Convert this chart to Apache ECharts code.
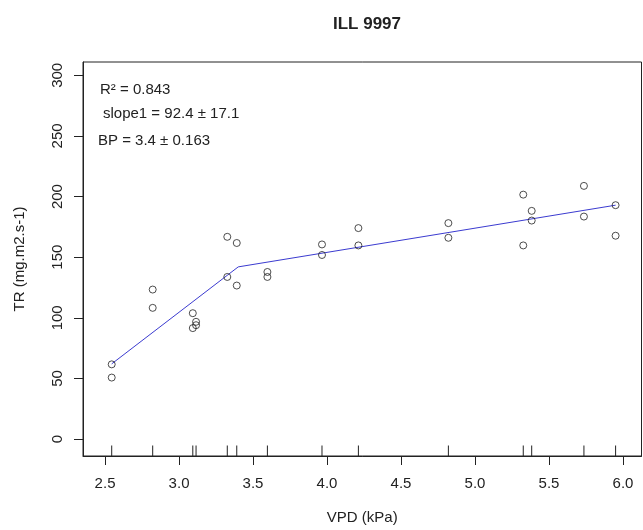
<!DOCTYPE html>
<html>
<head>
<meta charset="utf-8">
<script src="https://cdn.jsdelivr.net/npm/echarts@6/dist/echarts.min.js"></script>
<style>
html,body{margin:0;padding:0;background:#fff;}
#c{width:643px;height:530px;}
</style>
</head>
<body>
<div id="c"></div>
<script>
// ---- data ----
const chartTitle = 'ILL 9997';
const xName = 'VPD (kPa)';
const yName = 'TR (mg.m2.s-1)';
const vpd = [2.545,2.545, 2.822,2.822, 3.093,3.093, 3.115,3.115, 3.326,3.326, 3.39,3.39,
             3.597,3.597, 3.966,3.966, 4.212,4.212, 4.82,4.82, 5.326,5.326, 5.383,5.383,
             5.736,5.736, 5.95,5.95];
const tr  = [61.6,50.7, 123.3,108.2, 103.8,91.5, 96.7,93.9, 166.8,133.7, 161.7,126.6,
             137.8,133.7, 160.5,151.8, 174.0,159.7, 178.1,166.0, 201.6,159.7, 188.2,180.2,
             208.8,183.5, 192.9,167.7];
const fitX = [2.545, 3.4, 5.95];
const fitY = [62.0, 142.0, 192.9];
const xTicks = [2.5, 3.0, 3.5, 4.0, 4.5, 5.0, 5.5, 6.0];
const yTicks = [0, 50, 100, 150, 200, 250, 300];
const annotations = ['R\u00b2 = 0.843', 'slope1 = 92.4 \u00b1 17.1', 'BP = 3.4 \u00b1 0.163'];

// ---- chart ----
const X_MIN = 2.351, X_MAX = 6.125, Y_MIN = -14, Y_MAX = 311;
const FONT = '"Liberation Sans", Arial, sans-serif';
const INK = '#222';

const points = vpd.map((v, i) => [v, tr[i]]);
const fitLine = fitX.map((v, i) => [v, fitY[i]]);
const rugX = Array.from(new Set(vpd)).map(v => [v]);

const chart = echarts.init(document.getElementById('c'), null, {renderer: 'canvas'});
chart.setOption({
  backgroundColor: '#fff',
  animation: false,
  textStyle: {fontFamily: FONT},
  title: {
    text: chartTitle, left: 362, top: 11, textAlign: 'center',
    textStyle: {fontFamily: FONT, fontSize: 17, fontWeight: 'bold', color: INK}
  },
  grid: {left: 83, right: 1.5, top: 62, bottom: 73, show: true,
         borderColor: INK, borderWidth: 1, backgroundColor: 'transparent'},
  xAxis: {
    type: 'value', min: X_MIN, max: X_MAX, position: 'bottom',
    name: xName, nameLocation: 'middle', nameGap: 54,
    nameTextStyle: {fontFamily: FONT, fontSize: 15, color: INK},
    axisLine: {show: true, onZero: false, lineStyle: {color: INK, width: 1}},
    axisTick: {show: true, inside: false, length: 9, customValues: xTicks, lineStyle: {color: INK, width: 1}},
    axisLabel: {show: true, customValues: xTicks, margin: 20, fontSize: 15, color: INK,
                fontFamily: FONT, formatter: v => Number(v).toFixed(1)},
    splitLine: {show: false}
  },
  yAxis: {
    type: 'value', min: Y_MIN, max: Y_MAX, position: 'left',
    name: yName, nameLocation: 'middle', nameGap: 56, nameRotate: 90,
    nameTextStyle: {fontFamily: FONT, fontSize: 15, color: INK},
    axisLine: {show: true, onZero: false, lineStyle: {color: INK, width: 1}},
    axisTick: {show: true, inside: false, length: 9, customValues: yTicks, lineStyle: {color: INK, width: 1}},
    axisLabel: {show: true, customValues: yTicks, margin: 18, rotate: 90, fontSize: 15,
                color: INK, fontFamily: FONT},
    splitLine: {show: false}
  },
  graphic: annotations.map((t, i) => ({
    type: 'text',
    left: [100, 103, 98][i],
    top: [82, 106, 133][i],
    style: {text: t, fontFamily: FONT, fontSize: 15, fill: INK}
  })),
  series: [
    {
      type: 'line', data: fitLine, symbol: 'none', silent: true,
      lineStyle: {color: '#3b3bd0', width: 1}, z: 2
    },
    {
      type: 'scatter', data: points, symbol: 'circle', symbolSize: 7,
      itemStyle: {color: 'rgba(0,0,0,0)', borderColor: INK, borderWidth: 1}, z: 3
    },
    {
      type: 'custom', data: rugX, z: 4, silent: true,
      renderItem: function (params, api) {
        const p = api.coord([api.value(0), Y_MIN]);
        return {
          type: 'line',
          shape: {x1: p[0], y1: p[1], x2: p[0], y2: p[1] - 10.5},
          style: {stroke: INK, lineWidth: 1}
        };
      },
      encode: {x: 0}
    }
  ]
});
</script>
</body>
</html>
